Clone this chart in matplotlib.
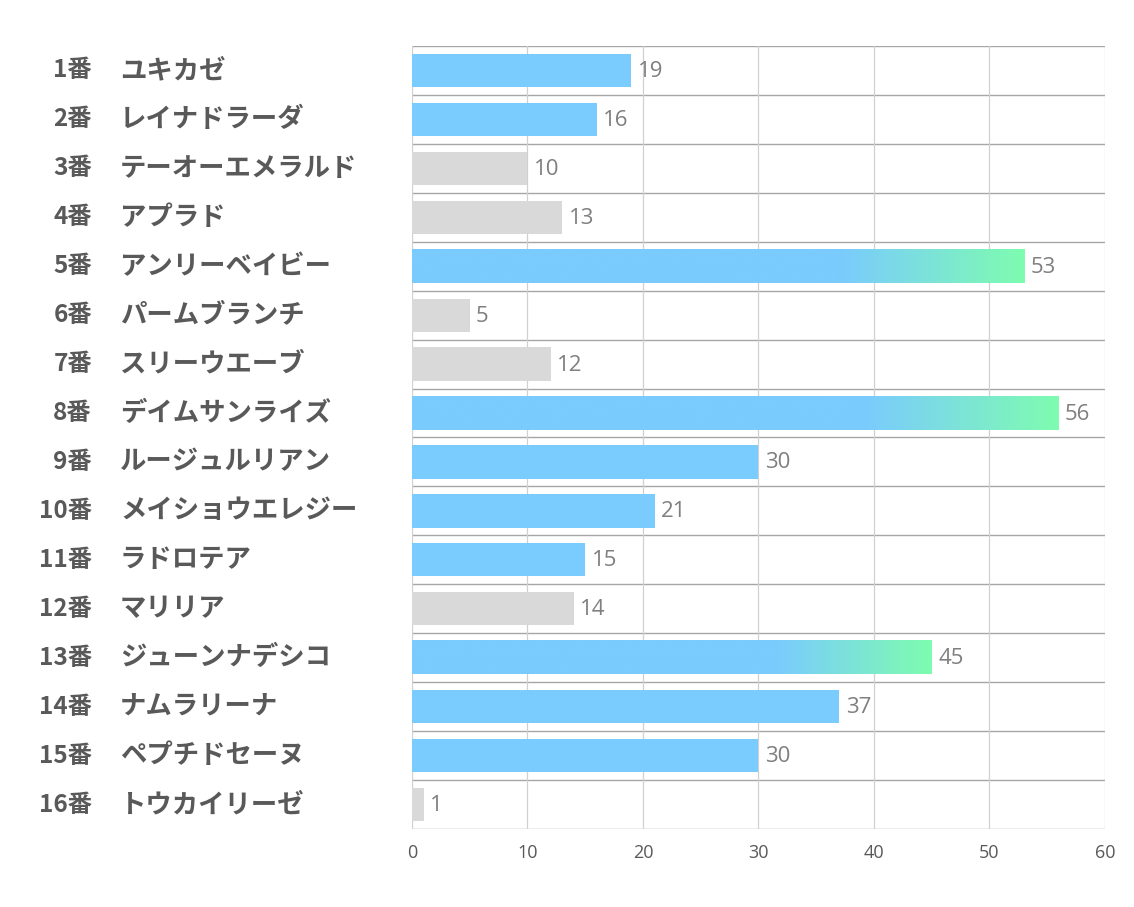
import matplotlib

matplotlib.use("Agg")

import matplotlib.pyplot as plt
import numpy as np
from matplotlib.colors import to_rgb
from matplotlib.transforms import blended_transform_factory

plt.rcParams["font.family"] = ["Noto Sans CJK JP", "DejaVu Sans"]

numbers = [f"{i}番" for i in range(1, 17)]
names = [
    "ユキカゼ",
    "レイナドラーダ",
    "テーオーエメラルド",
    "アプラド",
    "アンリーベイビー",
    "パームブランチ",
    "スリーウエーブ",
    "デイムサンライズ",
    "ルージュルリアン",
    "メイショウエレジー",
    "ラドロテア",
    "マリリア",
    "ジューンナデシコ",
    "ナムラリーナ",
    "ペプチドセーヌ",
    "トウカイリーゼ",
]
values = [19, 16, 10, 13, 53, 5, 12, 56, 30, 21, 15, 14, 45, 37, 30, 1]
# 0 = gray, 1 = blue, 2 = blue with green gradient
kinds = [1, 1, 0, 0, 2, 0, 0, 2, 1, 1, 1, 0, 2, 1, 1, 0]
x_ticks = [0, 10, 20, 30, 40, 50, 60]

BLUE = "#7ACBFE"
GREEN = "#7EFCB0"
GRAY = "#D9D9D9"
TEXT = "#595959"

fig = plt.figure(
    figsize=(11.34, 9.07),
    dpi=100,
)
ax = fig.add_axes([0.3633, 0.0860, 0.6111, 0.8633])

n = len(values)
ypos = np.arange(n)
bar_h = 0.68

blue_rgb = np.array(to_rgb(BLUE))
green_rgb = np.array(to_rgb(GREEN))
t = np.linspace(0, 1, 256)
mix = np.clip((t - 0.7) / 0.3, 0, 1)[:, None]
gradient = (blue_rgb * (1 - mix) + green_rgb * mix)[None, :, :]

for y, v, k in zip(ypos, values, kinds):
    if k == 2:
        ax.imshow(
            gradient,
            extent=(0, v, y + bar_h / 2, y - bar_h / 2),
            aspect="auto",
            interpolation="bilinear",
            zorder=2,
        )
    else:
        ax.barh(
            y,
            v,
            height=bar_h,
            color=BLUE if k == 1 else GRAY,
            zorder=2,
        )
    ax.text(
        v + 0.55,
        y + 0.02,
        str(v),
        va="center",
        ha="left",
        fontsize=16,
        color="#7F7F7F",
        family=["Open Sans", "DejaVu Sans"],
        zorder=3,
    )

ax.set_xlim(0, 60)
ax.set_ylim(n - 0.5, -0.5)

for b in np.arange(-0.5, n, 1.0):
    ax.axhline(b, color="#A6A6A6", linewidth=1.0, zorder=1)
for x in x_ticks:
    ax.axvline(x, color="#D0D0D0", linewidth=0.9, zorder=1)

for s in ax.spines.values():
    s.set_visible(False)

ax.set_xticks(x_ticks)
ax.set_xticklabels(
    [str(x) for x in x_ticks],
    family=["Open Sans", "DejaVu Sans"],
    fontsize=13,
    color="#595959",
)
ax.tick_params(axis="x", length=0, pad=11)

trans = blended_transform_factory(fig.transFigure, ax.transData)
ax.set_yticks([])
for y, num, name in zip(ypos, numbers, names):
    ax.text(
        92 / 1134,
        y,
        num,
        transform=trans,
        ha="right",
        va="center",
        fontsize=17.5,
        fontweight="bold",
        color=TEXT,
    )
    ax.text(
        120 / 1134,
        y,
        name,
        transform=trans,
        ha="left",
        va="center",
        fontsize=19,
        fontweight="bold",
        color=TEXT,
    )

fig.savefig("out.png", dpi=100, facecolor="white")
